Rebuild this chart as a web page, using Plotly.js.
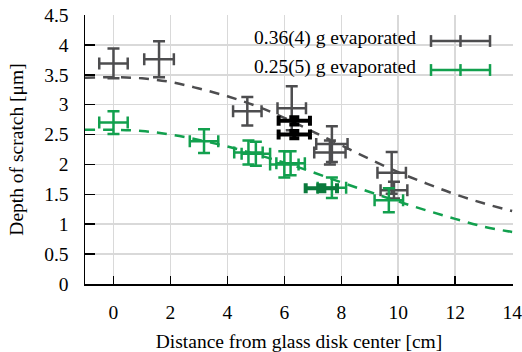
<!DOCTYPE html>
<html>
<head>
<meta charset="utf-8">
<script src="https://cdn.plot.ly/plotly-3.0.1.min.js"></script>
<style>html,body{margin:0;padding:0;background:#fff;}#chart{width:522px;height:352px;}</style>
</head>
<body>
<div id="chart"></div>
<script>
// Series 0.36(4) g evaporated
const grayX    = [0.0, 1.6, 4.7, 6.26, 7.67, 7.6, 9.77, 9.85];
const grayY    = [3.69, 3.76, 2.89, 2.94, 2.34, 2.2, 1.86, 1.57];
const grayYErr = [0.25, 0.3, 0.24, 0.37, 0.3, 0.2, 0.35, 0.14];
const grayXErr = [0.5, 0.52, 0.5, 0.5, 0.55, 0.55, 0.5, 0.47];
// highlighted (dark) points
const blackX    = [6.35, 6.35];
const blackY    = [2.73, 2.5];
const blackYErr = [0.06, 0.06];
const blackXErr = [0.55, 0.55];
// Series 0.25(5) g evaporated
const greenX    = [0.0, 3.18, 4.74, 5.0, 6.0, 6.22, 7.67, 9.67];
const greenY    = [2.7, 2.39, 2.2, 2.18, 2.0, 2.02, 1.61, 1.4];
const greenYErr = [0.19, 0.2, 0.2, 0.2, 0.22, 0.2, 0.17, 0.2];
const greenXErr = [0.5, 0.5, 0.5, 0.5, 0.5, 0.5, 0.5, 0.5];
const dkGreenX    = [7.3];
const dkGreenY    = [1.6];
const dkGreenYErr = [0.05];
const dkGreenXErr = [0.55];
// Fit curves
const fitX     = [-1, 0, 1, 2, 3, 4, 5, 6, 7, 8, 9, 10, 11, 12, 13, 14];
const grayFit  = [3.45, 3.46, 3.44, 3.38, 3.27, 3.14, 2.98, 2.78, 2.55, 2.32, 2.09, 1.87, 1.68, 1.50, 1.35, 1.22];
const greenFit = [2.58, 2.58, 2.56, 2.50, 2.41, 2.30, 2.17, 2.03, 1.87, 1.70, 1.54, 1.38, 1.23, 1.09, 0.96, 0.87];
// Labels
const legendLabels = ["0.36(4) g evaporated", "0.25(5) g evaporated"];
const xTicks = [0, 2, 4, 6, 8, 10, 12, 14];

const GRAY = '#4d4d4f', GREEN = '#12a04e', DKGREEN = '#0b7a3c', BLACK = '#000000';
const FONT = 'Liberation Serif';

function errTrace(x, y, ex, ey, color, thick, w) {
  return {
    x: x, y: y, type: 'scatter', mode: 'markers',
    marker: {size: 1, opacity: 0, color: color},
    error_x: {type: 'data', array: ex, visible: true, color: color, thickness: thick, width: w},
    error_y: {type: 'data', array: ey, visible: true, color: color, thickness: thick, width: w},
    showlegend: false, hoverinfo: 'skip'
  };
}

const traces = [
  {x: fitX, y: grayFit, type: 'scatter', mode: 'lines', line: {color: GRAY, width: 2.5, dash: '10px,8px', shape: 'spline', smoothing: 1}, showlegend: false},
  {x: fitX, y: greenFit, type: 'scatter', mode: 'lines', line: {color: GREEN, width: 2.5, dash: '10px,8px', shape: 'spline', smoothing: 1}, showlegend: false},
  errTrace(grayX, grayY, grayXErr, grayYErr, GRAY, 2.5, 6),
  errTrace(greenX, greenY, greenXErr, greenYErr, GREEN, 2.5, 6),
  errTrace(blackX, blackY, blackXErr, blackYErr, BLACK, 4, 5),
  errTrace(dkGreenX, dkGreenY, dkGreenXErr, dkGreenYErr, DKGREEN, 4, 5)
];

// custom legend (text left of symbol)
const legY = [0.9145, 0.8067];
const symY = [0.9033, 0.7955];
const legColors = [GRAY, GREEN];
const x0 = 0.8084, x1 = 0.9463, xm = 0.8773, capH = 0.022;
const shapes = [];
const annotations = [];
legendLabels.forEach((lab, i) => {
  annotations.push({xref: 'paper', yref: 'paper', x: 0.778, y: legY[i], xanchor: 'right', yanchor: 'middle',
    text: lab, showarrow: false, font: {family: FONT, size: 19.5, color: '#000'}});
  const c = legColors[i];
  shapes.push({type: 'line', xref: 'paper', yref: 'paper', x0: x0, x1: x1, y0: symY[i], y1: symY[i], line: {color: c, width: 2.5}});
  [x0, xm, x1].forEach(xx => {
    shapes.push({type: 'line', xref: 'paper', yref: 'paper', x0: xx, x1: xx, y0: symY[i] - capH, y1: symY[i] + capH, line: {color: c, width: 2.5}});
  });
});

const layout = {
  width: 522, height: 352,
  margin: {l: 85, r: 9, t: 15, b: 68},
  paper_bgcolor: '#fff', plot_bgcolor: '#fff',
  font: {family: FONT, size: 19.5, color: '#000'},
  showlegend: false,
  xaxis: {
    range: [-1, 14.03], tickvals: xTicks, ticks: 'inside', ticklen: 8, tickwidth: 1.5, tickcolor: '#000',
    showline: true, linecolor: '#000', linewidth: 1.5, zeroline: false,
    showgrid: true, gridcolor: '#d9d9d9', gridwidth: 1.5,
    ticklabelstandoff: 10, ticklabeloverflow: 'allow',
    tickfont: {family: FONT, size: 19.5, color: '#000'},
    title: {text: 'Distance from glass disk center [cm]', font: {family: FONT, size: 19.5, color: '#000'}, standoff: 12}
  },
  yaxis: {
    range: [0, 4.5], dtick: 0.5, tick0: 0, ticks: 'inside', ticklen: 10, tickwidth: 1.5, tickcolor: '#000',
    showline: true, linecolor: '#000', linewidth: 1.5, zeroline: false,
    showgrid: true, gridcolor: '#d9d9d9', gridwidth: 1.5,
    ticklabelstandoff: 11,
    tickfont: {family: FONT, size: 19.5, color: '#000'},
    title: {text: 'Depth of scratch [μm]', font: {family: FONT, size: 19.5, color: '#000'}, standoff: 15}
  },
  shapes: shapes,
  annotations: annotations
};

Plotly.newPlot('chart', traces, layout, {displayModeBar: false, staticPlot: true});
</script>
</body>
</html>
